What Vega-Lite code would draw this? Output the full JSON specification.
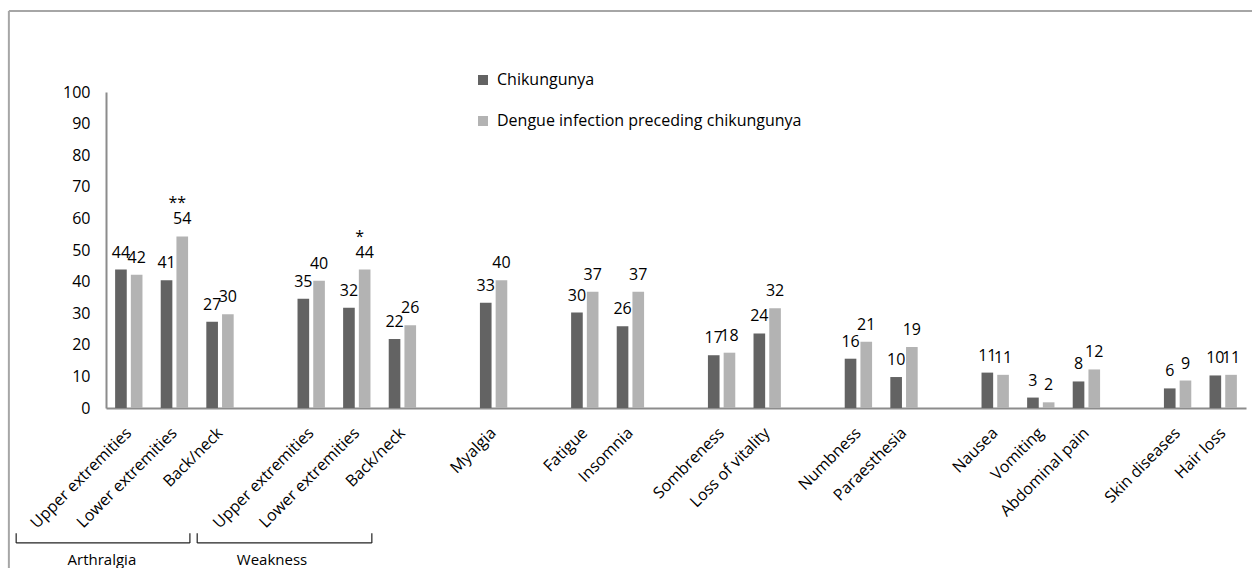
{
  "$schema": "https://vega.github.io/schema/vega-lite/v6.json",
  "width": 1140,
  "height": 316,
  "autosize": {"type": "none"},
  "padding": {"left": 106, "top": 92, "right": 6, "bottom": 160},
  "background": "white",
  "config": {
    "font": "Open Sans",
    "view": {"stroke": null},
    "text": {"font": "Open Sans"}
  },
  "layer": [
    {
      "data": {
        "values": [
          {"key": "A1|Upper extremities", "series": "Chikungunya", "value": 43.8, "label": "44"},
          {"key": "A1|Upper extremities", "series": "Dengue infection preceding chikungunya", "value": 42.2, "label": "42"},
          {"key": "A2|Lower extremities", "series": "Chikungunya", "value": 40.4, "label": "41"},
          {"key": "A2|Lower extremities", "series": "Dengue infection preceding chikungunya", "value": 54.3, "label": "54", "sig": "**"},
          {"key": "A3|Back/neck", "series": "Chikungunya", "value": 27.3, "label": "27"},
          {"key": "A3|Back/neck", "series": "Dengue infection preceding chikungunya", "value": 29.7, "label": "30"},
          {"key": "W1|Upper extremities", "series": "Chikungunya", "value": 34.6, "label": "35"},
          {"key": "W1|Upper extremities", "series": "Dengue infection preceding chikungunya", "value": 40.3, "label": "40"},
          {"key": "W2|Lower extremities", "series": "Chikungunya", "value": 31.7, "label": "32"},
          {"key": "W2|Lower extremities", "series": "Dengue infection preceding chikungunya", "value": 43.8, "label": "44", "sig": "*"},
          {"key": "W3|Back/neck", "series": "Chikungunya", "value": 21.8, "label": "22"},
          {"key": "W3|Back/neck", "series": "Dengue infection preceding chikungunya", "value": 26.2, "label": "26"},
          {"key": "M|Myalgia", "series": "Chikungunya", "value": 33.3, "label": "33"},
          {"key": "M|Myalgia", "series": "Dengue infection preceding chikungunya", "value": 40.4, "label": "40"},
          {"key": "F|Fatigue", "series": "Chikungunya", "value": 30.2, "label": "30"},
          {"key": "F|Fatigue", "series": "Dengue infection preceding chikungunya", "value": 36.8, "label": "37"},
          {"key": "I|Insomnia", "series": "Chikungunya", "value": 25.9, "label": "26"},
          {"key": "I|Insomnia", "series": "Dengue infection preceding chikungunya", "value": 36.8, "label": "37"},
          {"key": "S|Sombreness", "series": "Chikungunya", "value": 16.7, "label": "17"},
          {"key": "S|Sombreness", "series": "Dengue infection preceding chikungunya", "value": 17.5, "label": "18"},
          {"key": "L|Loss of vitality", "series": "Chikungunya", "value": 23.6, "label": "24"},
          {"key": "L|Loss of vitality", "series": "Dengue infection preceding chikungunya", "value": 31.6, "label": "32"},
          {"key": "N|Numbness", "series": "Chikungunya", "value": 15.6, "label": "16"},
          {"key": "N|Numbness", "series": "Dengue infection preceding chikungunya", "value": 21.0, "label": "21"},
          {"key": "P|Paraesthesia", "series": "Chikungunya", "value": 9.8, "label": "10"},
          {"key": "P|Paraesthesia", "series": "Dengue infection preceding chikungunya", "value": 19.3, "label": "19"},
          {"key": "Na|Nausea", "series": "Chikungunya", "value": 11.2, "label": "11"},
          {"key": "Na|Nausea", "series": "Dengue infection preceding chikungunya", "value": 10.5, "label": "11"},
          {"key": "V|Vomiting", "series": "Chikungunya", "value": 3.3, "label": "3"},
          {"key": "V|Vomiting", "series": "Dengue infection preceding chikungunya", "value": 1.8, "label": "2"},
          {"key": "Ab|Abdominal pain", "series": "Chikungunya", "value": 8.4, "label": "8"},
          {"key": "Ab|Abdominal pain", "series": "Dengue infection preceding chikungunya", "value": 12.2, "label": "12"},
          {"key": "Sk|Skin diseases", "series": "Chikungunya", "value": 6.2, "label": "6"},
          {"key": "Sk|Skin diseases", "series": "Dengue infection preceding chikungunya", "value": 8.7, "label": "9"},
          {"key": "H|Hair loss", "series": "Chikungunya", "value": 10.3, "label": "10"},
          {"key": "H|Hair loss", "series": "Dengue infection preceding chikungunya", "value": 10.5, "label": "11"}
        ]
      },
      "encoding": {
        "x": {
          "field": "key",
          "type": "nominal",
          "sort": null,
          "scale": {
            "domain": ["A1|Upper extremities", "A2|Lower extremities", "A3|Back/neck", "g1|", "W1|Upper extremities", "W2|Lower extremities", "W3|Back/neck", "g2|", "M|Myalgia", "g3|", "F|Fatigue", "I|Insomnia", "g4|", "S|Sombreness", "L|Loss of vitality", "g5|", "N|Numbness", "P|Paraesthesia", "g6|", "Na|Nausea", "V|Vomiting", "Ab|Abdominal pain", "g7|", "Sk|Skin diseases", "H|Hair loss"],
            "paddingInner": 0.4,
            "paddingOuter": 0.2
          },
          "axis": {
            "title": null,
            "labelExpr": "split(datum.value, '|')[1]",
            "labelAngle": -45,
            "labelAlign": "right",
            "labelBaseline": "middle",
            "labelPadding": 22,
            "labelFontSize": 16,
            "labelColor": "#000000",
            "labelFont": "Open Sans",
            "labelOverlap": false,
            "labelBound": false,
            "ticks": false,
            "domainColor": "#8c8c8c",
            "domainWidth": 2
          }
        },
        "xOffset": {
          "field": "series",
          "type": "nominal",
          "sort": ["Chikungunya", "Dengue infection preceding chikungunya"],
          "scale": {"paddingInner": 0.26, "paddingOuter": 0}
        },
        "y": {
          "field": "value",
          "type": "quantitative",
          "scale": {"domain": [0, 100], "nice": false},
          "axis": {
            "title": null,
            "values": [0, 10, 20, 30, 40, 50, 60, 70, 80, 90, 100],
            "grid": false,
            "ticks": false,
            "labelOverlap": false,
            "labelPadding": 16,
            "labelFontSize": 16,
            "labelColor": "#000000",
            "labelFont": "Open Sans",
            "domainColor": "#8c8c8c",
            "domainWidth": 2
          }
        }
      },
      "layer": [
        {
          "mark": {"type": "bar"},
          "encoding": {
            "color": {
              "field": "series",
              "type": "nominal",
              "scale": {"domain": ["Chikungunya", "Dengue infection preceding chikungunya"], "range": ["#636363", "#b3b3b3"]},
              "legend": {
                "title": null,
                "orient": "none",
                "legendX": 369,
                "legendY": -20,
                "symbolType": "square",
                "symbolSize": 100,
                "symbolStrokeWidth": 0,
                "labelFontSize": 16,
                "labelFont": "Open Sans",
                "labelColor": "#000000",
                "labelOffset": 6,
                "rowPadding": 25,
                "labelLimit": 600
              }
            }
          }
        },
        {
          "mark": {"type": "text", "baseline": "alphabetic", "align": "center", "dy": -12, "fontSize": 16, "color": "#000000"},
          "encoding": {"text": {"field": "label"}}
        },
        {
          "transform": [{"filter": "isValid(datum.sig)"}],
          "mark": {"type": "text", "baseline": "alphabetic", "align": "center", "dy": -28, "dx": -5, "fontSize": 16, "color": "#000000"},
          "encoding": {"text": {"field": "sig"}}
        }
      ]
    },
    {
      "data": {
        "values": [
          {"x": -2.47, "x2": -2.47, "y": -39.6, "y2": -42.7},
          {"x": -2.47, "x2": 1.34, "y": -42.7, "y2": -42.7},
          {"x": 1.34, "x2": 1.34, "y": -39.6, "y2": -42.7},
          {"x": 1.5, "x2": 1.5, "y": -39.6, "y2": -42.7},
          {"x": 1.5, "x2": 5.33, "y": -42.7, "y2": -42.7},
          {"x": 5.33, "x2": 5.33, "y": -39.6, "y2": -42.7}
        ]
      },
      "mark": {"type": "rule", "color": "#222222", "strokeWidth": 1.2},
      "encoding": {
        "x": {"field": "x", "type": "quantitative", "scale": {"domain": [-0.5, 24.5], "nice": false, "zero": false}, "axis": null},
        "x2": {"field": "x2"},
        "y": {"field": "y", "type": "quantitative", "axis": null},
        "y2": {"field": "y2"}
      }
    },
    {
      "data": {
        "values": [
          {"x": -2.63, "x2": -2.63, "y": 125.6, "y2": -51},
          {"x": -2.63, "x2": 24.7, "y": 125.6, "y2": 125.6}
        ]
      },
      "mark": {"type": "rule", "color": "#a6a6a6", "strokeWidth": 2},
      "encoding": {
        "x": {"field": "x", "type": "quantitative", "scale": {"domain": [-0.5, 24.5], "nice": false, "zero": false}, "axis": null},
        "x2": {"field": "x2"},
        "y": {"field": "y", "type": "quantitative", "axis": null},
        "y2": {"field": "y2"}
      }
    },
    {
      "data": {
        "values": [
          {"x": -0.59, "y": -49.7, "group": "Arthralgia"},
          {"x": 3.14, "y": -49.7, "group": "Weakness"}
        ]
      },
      "mark": {"type": "text", "baseline": "alphabetic", "align": "center", "fontSize": 15, "color": "#000000"},
      "encoding": {
        "x": {"field": "x", "type": "quantitative", "scale": {"domain": [-0.5, 24.5], "nice": false, "zero": false}, "axis": null},
        "y": {"field": "y", "type": "quantitative", "axis": null},
        "text": {"field": "group"}
      }
    }
  ],
  "resolve": {"scale": {"x": "independent"}, "axis": {"y": "independent"}}
}
